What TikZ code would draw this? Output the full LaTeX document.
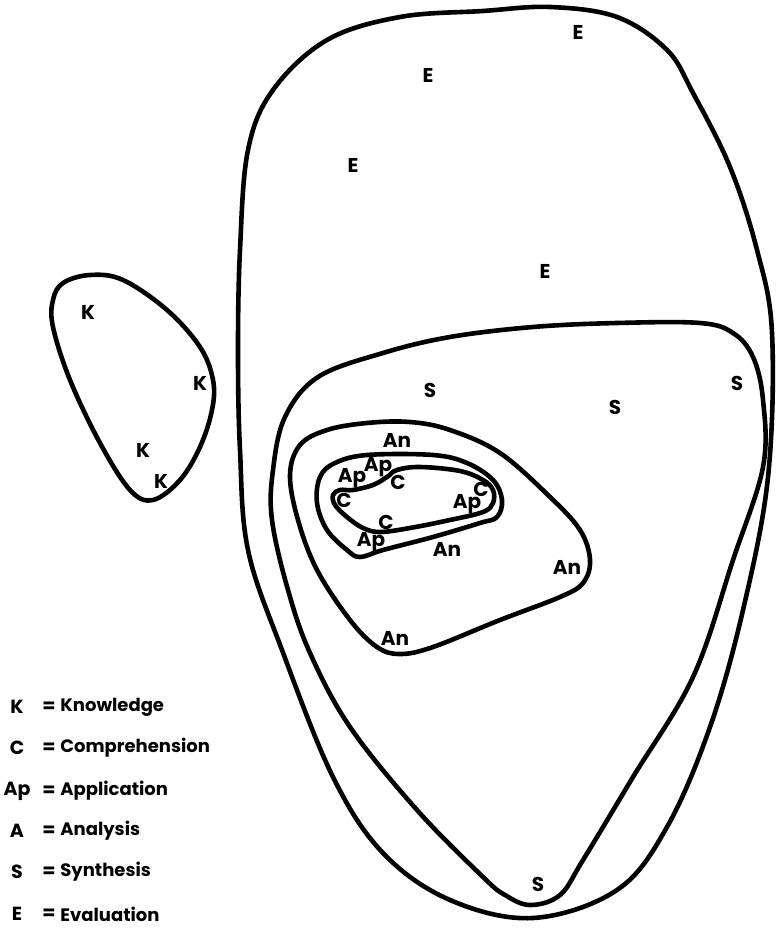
\documentclass[tikz,border=0pt]{standalone}
\usepackage{fontspec}
\setmainfont{Poppins}
\usepackage{tikz}
\usetikzlibrary{positioning}
\definecolor{cInk}{RGB}{0,0,0}
\tikzset{
  blob/.style={draw=cInk, line width=2.3pt, line join=round},
  lvl/.style={font=\bfseries\fontsize{10}{11}\selectfont, text=cInk, inner sep=0pt},
  keyabbr/.style={lvl, font=\bfseries\fontsize{9.5}{10}\selectfont, anchor=center},
  keytext/.style={lvl, font=\bfseries\fontsize{9}{10}\selectfont, anchor=west},
}

\begin{document}
\begin{tikzpicture}[x=0.5pt, y=-0.5pt]
\useasboundingbox (0,0) rectangle (778,929);

%% ============================================================
%%  EVALUATION (outermost region)
%% ============================================================
\draw[blob] plot[smooth cycle, tension=0.6] coordinates {
  (248,150) (240,250) (238,350) (240,450) (248,550) (282,650)
  (333,777) (383,853) (450,900) (533,918) (617,890) (667,827)
  (710,727) (743,610) (768,477) (772,333) (757,250) (730,167)
  (693,93) (667,50) (617,17) (550,7) (483,11) (400,17)
  (327,40) (273,90)};

\node[lvl] (e1) at (578,32)  {E};
\node[lvl] (e2) at (428,75)  {E};
\node[lvl] (e3) at (353,165) {E};
\node[lvl] (e4) at (545,271) {E};

%% ============================================================
%%  SYNTHESIS
%% ============================================================
\draw[blob] plot[smooth cycle, tension=0.6] coordinates {
  (285,417) (318,377) (383,353) (450,337) (533,327) (617,323)
  (700,323) (733,333) (753,357) (763,400) (763,467) (733,560)
  (693,677) (633,777) (583,860) (560,895) (530,905) (505,895)
  (483,877) (417,810) (350,727) (310,653) (288,590) (272,520)
  (273,470)};

\node[lvl] (s1) at (430,390) {S};
\node[lvl] (s2) at (615,407) {S};
\node[lvl] (s3) at (737,383) {S};
\node[lvl] (s4) at (538,884) {S};

%% ============================================================
%%  ANALYSIS
%% ============================================================
\draw[blob] plot[smooth cycle, tension=0.6] coordinates {
  (367,423) (410,422) (450,430) (500,453) (550,497) (580,530)
  (590,560) (583,583) (560,597) (500,620) (433,647) (400,654)
  (377,647) (350,620) (317,570) (298,520) (290,475) (300,445)
  (327,430)};

\node[lvl] (an1) at (397,440) {An};
\node[lvl] (an2) at (447,549) {An};
\node[lvl] (an3) at (567,567) {An};
\node[lvl] (an4) at (395,638) {An};

%% ============================================================
%%  APPLICATION
%% ============================================================
\draw[blob] plot[smooth cycle, tension=0.6] coordinates {
  (367,455) (433,455) (467,463) (493,480) (502,500) (497,517)
  (480,523) (433,537) (383,550) (360,557) (347,550) (327,530)
  (317,503) (320,477) (335,463)};

\node[lvl] (ap1) at (352,478) {Ap};
\node[lvl] (ap2) at (378,467) {Ap};
\node[lvl] (ap3) at (467,504) {Ap};
\node[lvl] (ap4) at (371,542) {Ap};

%% ============================================================
%%  COMPREHENSION (innermost region)
%% ============================================================
\draw[blob] plot[smooth cycle, tension=0.6] coordinates {
  (340,490) (353,490) (373,485) (387,477) (397,470) (420,467)
  (460,471) (483,480) (493,490) (493,503) (483,512) (450,520)
  (410,528) (380,532) (363,528) (347,517) (335,505) (333,495)};

\node[lvl] (c1) at (398,482) {C};
\node[lvl] (c2) at (344,500) {C};
\node[lvl] (c3) at (386,522) {C};
\node[lvl] (c4) at (481,489) {C};

%% ============================================================
%%  KNOWLEDGE (separate region)
%% ============================================================
\draw[blob] plot[smooth cycle, tension=0.6] coordinates {
  (63,283) (90,275) (123,280) (167,310) (200,347) (213,380)
  (212,410) (200,447) (180,480) (153,500) (130,490) (100,443)
  (70,380) (53,327) (53,300)};

\node[lvl] (k1) at (88,312)  {K};
\node[lvl] (k2) at (200,383) {K};
\node[lvl] (k3) at (143,450) {K};
\node[lvl] (k4) at (161,481) {K};

%% ============================================================
%%  Legend
%% ============================================================
\foreach \ab/\txt/\yy [count=\i] in {K/Knowledge/707, C/Comprehension/748,
    Ap/Application/791, A/Analysis/831, S/Synthesis/872, E/Evaluation/914} {
  \node[keyabbr] (ab\i) at (17,\yy) {\ab};
  \node[keyabbr] (eq\i) at (49,\yy) {=};
  \node[keytext] (tx\i) at (60,\yy) {\txt};
}

\end{tikzpicture}
\end{document}
